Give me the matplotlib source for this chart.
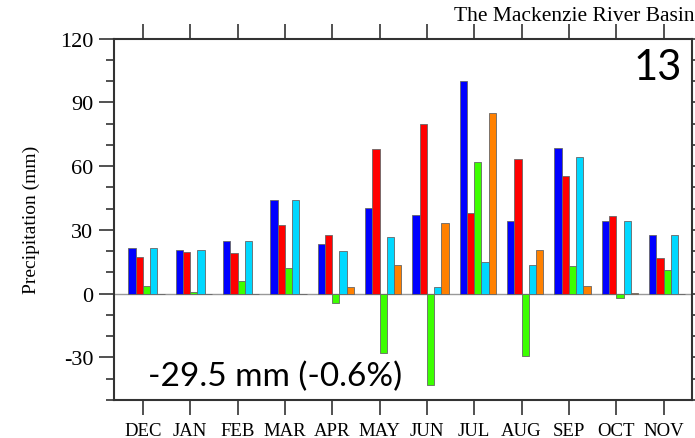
#!/usr/bin/env python3

import matplotlib
matplotlib.use('Agg')
import matplotlib.pyplot as plt
from matplotlib.ticker import MultipleLocator
import numpy as np

plt.rcParams['axes.unicode_minus']= False

MONTHS= ['DEC', 'JAN', 'FEB', 'MAR', 'APR', 'MAY',
         'JUN', 'JUL', 'AUG', 'SEP', 'OCT', 'NOV']

blue=   [21.3, 20.6, 25.0, 44.1, 23.5, 40.4, 36.8, 100.0, 34.4, 68.5, 34.3, 27.4]
red=    [17.4, 19.7, 19.2, 32.1, 27.7, 68.1, 79.6, 38.0, 63.5, 55.4, 36.4, 16.6]
green=  [3.8, 0.9, 5.9, 12.0, -4.4, -27.7, -43.0, 61.8, -29.3, 12.8, -2.2, 10.9]
cyan=   [21.3, 20.6, 25.0, 44.1, 19.9, 26.6, 3.3, 15.0, 13.6, 64.5, 34.1, 27.4]
orange= [0.0, 0.0, 0.0, 0.0, 3.3, 13.6, 33.2, 85.1, 20.5, 3.8, 0.1, 0.0]

SERIES= [blue, red, green, cyan, orange]
COLORS= ['#0000ff', '#ff0000', '#3cff00', '#00d8ff', '#ff8000']

BAR_W= 0.153
SPINE= '#333333'
SERIF= 'Liberation Serif'

fig= plt.figure(figsize=(6.95, 4.39), dpi=100)
ax= fig.add_axes([0.164, 0.0866, 0.8317, 0.8234])

x= np.arange(len(MONTHS))

ax.axhline(0, color='#999999', linewidth=1.0, zorder=1)

for i, (vals, col) in enumerate(zip(SERIES, COLORS)):
    ax.bar(x + (i - 2)*BAR_W, vals, BAR_W, align='edge',
           color=col, edgecolor='#666666', linewidth=0.6, zorder=2)

ax.set_xlim(-0.61, 11.6)
ax.set_ylim(-50, 120)

ax.set_xticks(x)
ax.set_xticklabels(MONTHS, family=SERIF, fontsize=13.5)
ax.yaxis.set_major_locator(MultipleLocator(30))
ax.yaxis.set_minor_locator(MultipleLocator(10))
for lab in ax.get_yticklabels():
    lab.set_family(SERIF)
    lab.set_fontsize(16)

ax.tick_params(axis='x', which='major', direction='out', length=11,
               width=1.2, color=SPINE, top=True, pad=4.5)
ax.tick_params(axis='y', which='major', direction='out', length=11,
               width=1.2, color=SPINE, right=True, pad=4)
ax.tick_params(axis='y', which='minor', direction='out', length=6,
               width=1.2, color=SPINE, right=True)

for sp in ax.spines.values():
    sp.set_color(SPINE)
    sp.set_linewidth(1.5)

ax.set_ylabel('Precipitation (mm)', family=SERIF, fontsize=14, labelpad=14)

fig.text(0.999, 0.962, 'The Mackenzie River Basin', family=SERIF,
         fontsize=15.5, ha='right', va='center')
ax.text(0.982, 0.975, '13', transform=ax.transAxes, family='Lato',
        fontsize=30, ha='right', va='top')
ax.text(0.059, 0.025, '-29.5 mm (-0.6%)', transform=ax.transAxes,
        family='Lato', fontsize=24, ha='left', va='bottom')

fig.savefig('out.png', dpi=100)
